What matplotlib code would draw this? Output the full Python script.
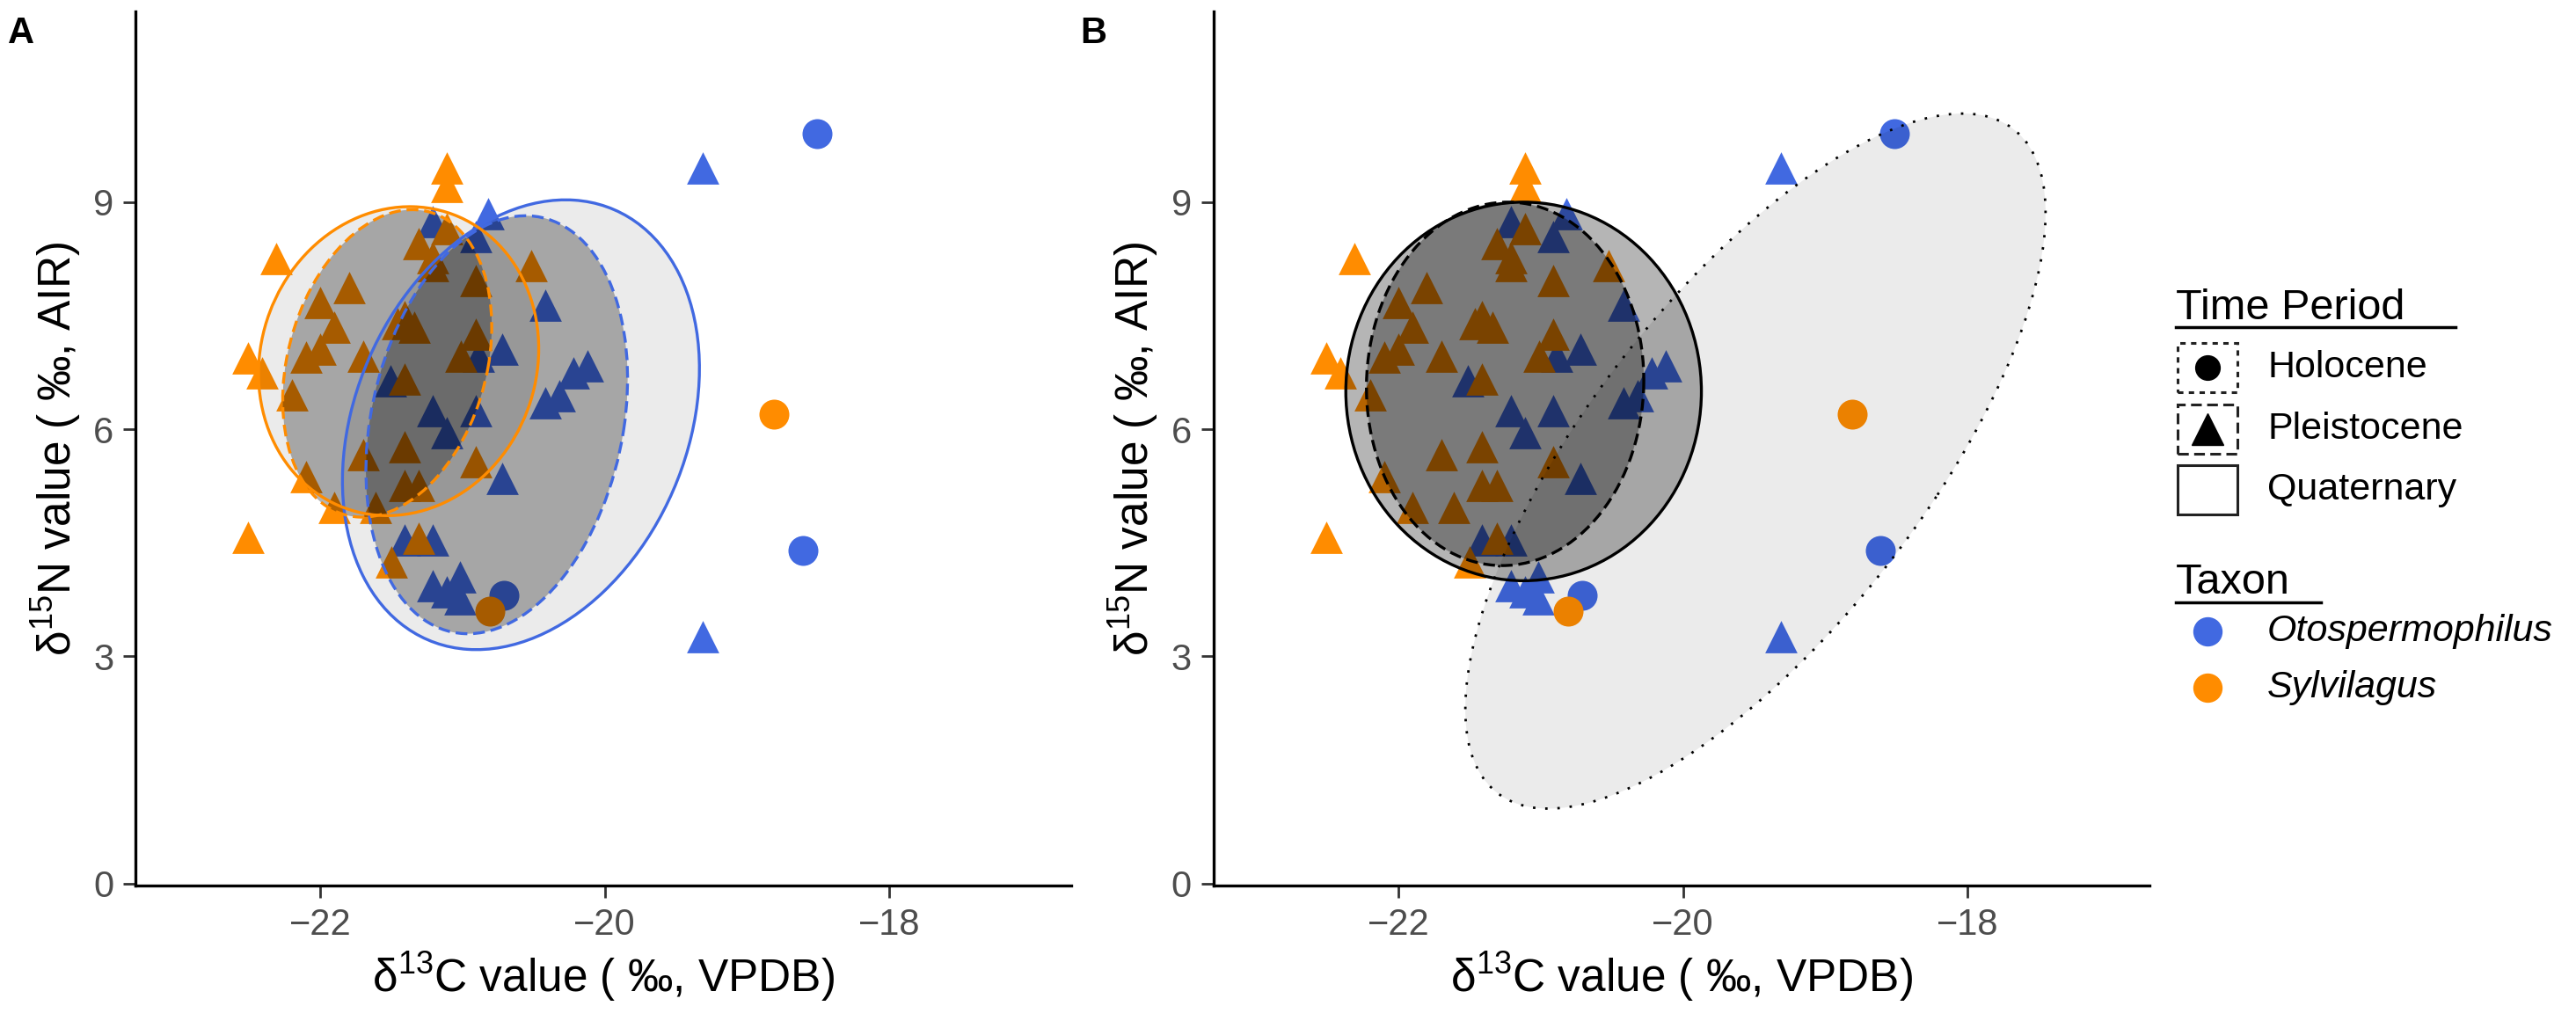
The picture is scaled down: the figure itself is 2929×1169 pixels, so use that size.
import numpy as np
import matplotlib
matplotlib.use("Agg")
import matplotlib.pyplot as plt
from matplotlib.patches import Ellipse, Rectangle
from matplotlib.lines import Line2D

plt.rcParams['font.family'] = ['Liberation Sans', 'DejaVu Sans']
plt.rcParams['mathtext.fontset'] = 'custom'
plt.rcParams['mathtext.rm'] = 'Liberation Sans'
plt.rcParams['mathtext.default'] = 'regular'

BLUE = "#4169E1"
ORANGE = "#FF8C00"

# Otospermophilus, Pleistocene (triangles)
oto_pl_x = [-21.21, -20.82, -20.91, -20.42, -20.72, -20.89, -20.12, -20.22, -20.32, -20.42,
            -21.51, -21.21, -20.91, -21.11, -20.72, -21.41, -21.21, -21.21, -21.11, -21.02,
            -21.02, -19.31, -19.31]
oto_pl_y = [8.74, 8.85, 8.54, 7.64, 7.06, 6.97, 6.84, 6.75, 6.44, 6.35,
            6.64, 6.24, 6.24, 5.95, 5.35, 4.54, 4.54, 3.94, 3.85, 4.05,
            3.76, 9.45, 3.26]
# Otospermophilus, Holocene (circles)
oto_ho_x = [-18.51, -18.61, -20.71]
oto_ho_y = [9.90, 4.40, 3.81]
# Sylvilagus, Pleistocene (triangles)
syl_pl_x = [-21.11, -21.31, -21.21, -21.21, -20.52, -20.91, -21.80, -22.00, -21.41, -21.46,
            -21.34, -21.90, -20.91, -22.00, -22.10, -21.70, -21.01, -21.41, -22.20, -21.70,
            -21.41, -20.91, -22.10, -21.41, -21.31, -21.90, -21.61, -21.31, -21.50,
            -21.11, -21.11, -22.31, -22.51, -22.41, -22.51]
syl_pl_y = [8.65, 8.45, 8.27, 8.16, 8.16, 7.96, 7.87, 7.67, 7.49, 7.40,
            7.35, 7.35, 7.26, 7.06, 6.95, 6.97, 6.97, 6.66, 6.46, 5.66,
            5.77, 5.57, 5.37, 5.26, 5.26, 4.97, 4.97, 4.56, 4.25,
            9.45, 9.21, 8.25, 6.94, 6.75, 4.57]
# Sylvilagus, Holocene (circles)
syl_ho_x = [-18.81, -20.81]
syl_ho_y = [6.20, 3.60]

x_ticks = [-22, -20, -18]
y_ticks = [0, 3, 6, 9]

# ellipses: centre x, centre y, half-extent x, half-extent y, correlation
# panel A (per taxon)
ell_oto_all = (-20.59, 6.06, 1.255, 2.97, 0.25)
ell_oto_pl = (-20.76, 6.06, 0.92, 2.76, 0.22)
ell_syl_all = (-21.45, 6.90, 0.985, 2.04, 0.08)
ell_syl_pl = (-21.53, 6.87, 0.735, 2.03, 0.24)
# panel B (per period)
ell_holo = (-19.49, 5.58, 2.04, 4.59, 0.714)
ell_quat = (-21.12, 6.50, 1.25, 2.50, 0.0)
ell_pleis = (-21.25, 6.60, 0.975, 2.40, 0.02)


def draw_ellipse(ax, params, ls, edge, alpha, lw=2.4):
    cx, cy, sx, sy, r = params
    m = np.array([[sx * sx, r * sx * sy], [r * sx * sy, sy * sy]])
    vals, vecs = np.linalg.eigh(m)
    ang = np.degrees(np.arctan2(vecs[1, 1], vecs[0, 1]))
    w, h = 2 * np.sqrt(vals[1]), 2 * np.sqrt(vals[0])
    ax.add_patch(Ellipse((cx, cy), w, h, angle=ang,
                         facecolor=(0, 0, 0, alpha), edgecolor="none", zorder=3))
    ax.add_patch(Ellipse((cx, cy), w, h, angle=ang, facecolor="none",
                         edgecolor=edge, linestyle=ls, lw=lw, zorder=4))


def base_axes(ax):
    ax.scatter(oto_pl_x, oto_pl_y, marker="^", s=700, c=BLUE, lw=0, zorder=2)
    ax.scatter(syl_pl_x, syl_pl_y, marker="^", s=700, c=ORANGE, lw=0, zorder=2)
    ax.scatter(oto_ho_x, oto_ho_y, marker="o", s=600, c=BLUE, lw=0, zorder=2)
    ax.scatter(syl_ho_x, syl_ho_y, marker="o", s=600, c=ORANGE, lw=0, zorder=2)
    ax.set_xlim(-23.30, -16.72)
    ax.set_ylim(-0.02, 11.52)
    ax.set_xticks(x_ticks)
    ax.set_xticklabels(["\u2212%d" % abs(t) for t in x_ticks])
    ax.set_yticks(y_ticks)
    for s in ["top", "right"]:
        ax.spines[s].set_visible(False)
    for s in ["left", "bottom"]:
        ax.spines[s].set_linewidth(2.4)
    ax.tick_params(labelsize=30, length=10, width=2, pad=8,
                   colors="#333333", labelcolor="#4D4D4D")
    ax.set_xlabel("\u03b4$^{13}$C value ( \u2030, VPDB)", fontsize=37, labelpad=6)
    ax.set_ylabel("\u03b4$^{15}$N value ( \u2030, AIR)", fontsize=37, labelpad=8)


fig = plt.figure(figsize=(29.29, 11.69), dpi=100)
axA = fig.add_axes([0.0526, 0.139, 0.3633, 0.850])
axB = fig.add_axes([0.4711, 0.139, 0.3633, 0.850])
base_axes(axA)
base_axes(axB)

draw_ellipse(axA, ell_oto_all, "-", BLUE, 0.08)
draw_ellipse(axA, ell_oto_pl, (0, (4, 2)), BLUE, 0.29)
draw_ellipse(axA, ell_syl_all, "-", ORANGE, 0.08)
draw_ellipse(axA, ell_syl_pl, (0, (4, 2)), ORANGE, 0.29)

draw_ellipse(axB, ell_holo, (0, (1, 4)), "black", 0.08, lw=2)
draw_ellipse(axB, ell_quat, "-", "black", 0.29)
draw_ellipse(axB, ell_pleis, (0, (4, 2)), "black", 0.32)

fig.text(0.003, 0.985, "A", fontsize=30, fontweight="bold", va="top")
fig.text(0.4195, 0.985, "B", fontsize=30, fontweight="bold", va="top")

# legend, placed in pixel coordinates
W, H = 2929, 1169
def fx(px): return px / W
def fy(py): return 1 - py / H

fig.text(fx(2474), fy(363), "Time Period", fontsize=35, va="baseline")
fig.add_artist(Line2D([fx(2474), fx(2792)], [fy(372), fy(372)], color="black", lw=2.5))
keys = [("Holocene", 418, (0, (2, 2)), "o"), ("Pleistocene", 488, (0, (4, 2)), "^"),
        ("Quaternary", 557, "-", None)]
for label, cy, ls, mk in keys:
    fig.add_artist(Rectangle((fx(2476), fy(cy + 28)), 68 / W, 56 / H, fill=False,
                             lw=2.2, ls=ls, edgecolor="#222222", transform=fig.transFigure))
    if mk:
        fig.add_artist(Line2D([fx(2510)], [fy(cy)], marker=mk, ms=20 if mk == "o" else 26,
                              color="black", lw=0))
    fig.text(fx(2578), fy(cy), label, fontsize=31, va="center")

fig.text(fx(2474), fy(675), "Taxon", fontsize=35, va="baseline")
fig.add_artist(Line2D([fx(2474), fx(2639)], [fy(685), fy(685)], color="black", lw=2.5))
for label, cy, col in [("Otospermophilus", 718, BLUE), ("Sylvilagus", 782, ORANGE)]:
    fig.add_artist(Line2D([fx(2510)], [fy(cy)], marker="o", ms=23, color=col, lw=0))
    fig.text(fx(2578), fy(cy), label, fontsize=31, va="center", style="italic")

fig.savefig("out.png", dpi=100)
